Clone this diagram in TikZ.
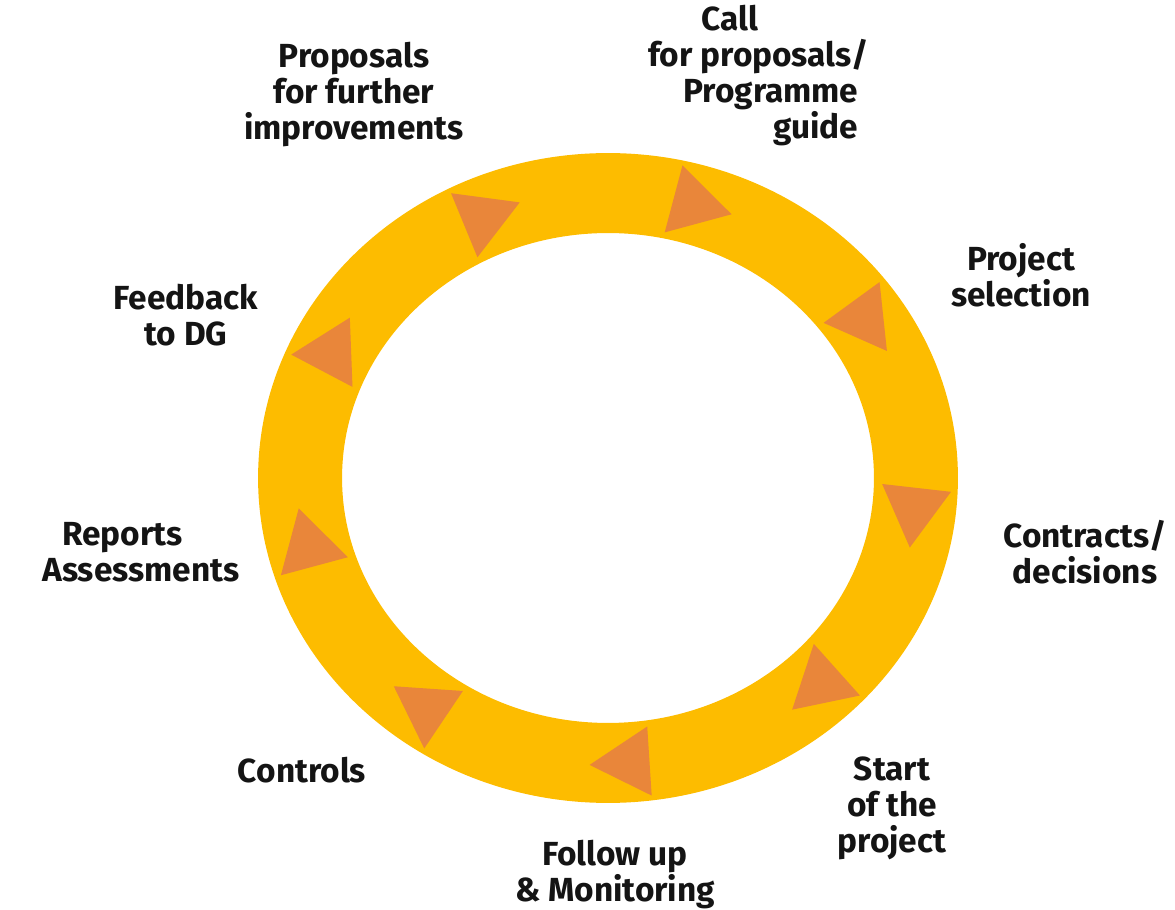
\documentclass[tikz,border=0pt]{standalone}
\usepackage{fontspec}
\setmainfont{Fira Sans}
\usetikzlibrary{calc}
\definecolor{ringyellow}{RGB}{253,188,0}
\definecolor{arroworange}{RGB}{233,134,58}
\definecolor{textdark}{RGB}{20,20,20}

\begin{document}
\begin{tikzpicture}[
    x=0.02cm, y=0.02cm,
    ring/.style={fill=ringyellow,even odd rule},
    tip/.style={fill=arroworange},
    stage/.style={font=\bfseries\fontsize{19}{20.5}\selectfont,text=textdark,align=center,inner sep=0pt}
  ]
  \useasboundingbox (0,0) rectangle (1175,909);
  \coordinate (ctr) at (608,431);
  % the cycle
  \fill[ring] (ctr) ellipse[x radius=7cm,y radius=6.5cm]
              (ctr) ellipse[x radius=5.32cm,y radius=4.9cm];
  \foreach \t in {74,34,...,-246}{
    \pgfmathsetmacro{\dir}{atan2(-285*cos(\t),308*sin(\t))}
    \coordinate (m) at ($(ctr)+({308*cos(\t)},{285*sin(\t)})$);
    \fill[tip] ($(m)+(\dir:0.8cm)$) -- ($(m)+(\dir+120:0.8cm)$) -- ($(m)+(\dir-120:0.8cm)$) -- cycle;
  }
  % steps
  \node[stage,anchor=west,align=left] (call) at (648,833) {\hspace*{1.06cm}Call\\for proposals/\\\hspace*{0.7cm}Programme\\\hspace*{2.5cm}guide};
  \node[stage] (select) at (1021,634) {Project\\selection};
  \node[stage] (contract) at (1085,357) {Contracts/\\decisions};
  \node[stage] (start) at (892,101) {Start\\of the\\project};
  \node[stage] (follow) at (615,34) {Follow up\\\& Monitoring};
  \node[stage] (controls) at (302,139) {Controls};
  \node[stage,anchor=west,align=left] (reports) at (42,357) {\hspace*{0.4cm}Reports\\Assessments};
  \node[stage] (feedback) at (186,594) {Feedback\\to DG};
  \node[stage] (improve) at (354,814) {Proposals\\for further\\improvements};
\end{tikzpicture}
\end{document}
